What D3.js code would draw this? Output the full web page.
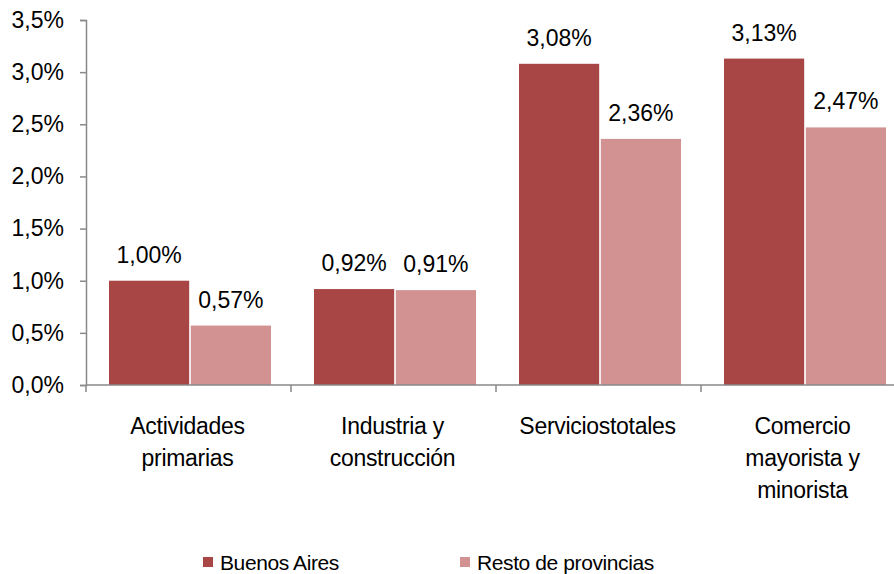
<!DOCTYPE html>
<html>
<head>
<meta charset="utf-8">
<script src="https://cdn.jsdelivr.net/npm/d3@7"></script>
<style>
  body { margin: 0; background: #fff; }
  text { font-family: "Liberation Sans", Arial, sans-serif; fill: #000; }
</style>
</head>
<body>
<script>
// valores
const categories = [["Actividades", "primarias"], ["Industria y", "construcción"], ["Serviciostotales"], ["Comercio", "mayorista y", "minorista"]];
const seriesNames = ["Buenos Aires", "Resto de provincias"];
const buenosAires = [1.00, 0.92, 3.08, 3.13];
const restoProv = [0.57, 0.91, 2.36, 2.47];
const yTicks = [0, 0.5, 1, 1.5, 2, 2.5, 3, 3.5];
const colors = ["#A84646", "#D39292"];

const W = 894, H = 574;
const svg = d3.select("body").append("svg")
  .attr("width", W)
  .attr("height", H);

const x0 = d3.scaleBand().domain(d3.range(categories.length)).range([86, 906]).paddingInner(0).paddingOuter(0);
const x1 = d3.scaleBand().domain([0, 1]).range([23, 185]).paddingInner(0.02);
const y = d3.scaleLinear().domain([0, 3.5]).range([385, 20]);

const fmt = v => d3.format(".1f")(v).replace(".", ",") + "%";
const fmt2 = v => d3.format(".2f")(v).replace(".", ",") + "%";

// eje y
const yAxis = svg.append("g")
  .attr("transform", "translate(86,0)")
  .call(d3.axisLeft(y).tickValues(yTicks).tickFormat(fmt).tickSize(6).tickPadding(16));
yAxis.select(".domain").attr("stroke", "#898989").attr("stroke-width", 1.5);
yAxis.selectAll(".tick line").attr("stroke", "#898989").attr("stroke-width", 1.5);
yAxis.selectAll("text").style("font-size", "23px").style("font-family", "Liberation Sans, Arial, sans-serif").attr("fill", "#000");

// barras
const data = categories.map((c, i) => ({ i: i, vals: [buenosAires[i], restoProv[i]] }));
const groups = svg.append("g").selectAll("g").data(data).join("g")
  .attr("transform", d => `translate(${x0(d.i)},0)`);

groups.selectAll("rect").data(d => d.vals.map((v, k) => ({ v, k }))).join("rect")
  .attr("x", d => x1(d.k))
  .attr("width", x1.bandwidth())
  .attr("y", d => y(d.v))
  .attr("height", d => y(0) - y(d.v))
  .attr("fill", d => colors[d.k]);

groups.selectAll("text.val").data(d => d.vals.map((v, k) => ({ v, k }))).join("text")
  .attr("class", "val")
  .attr("x", d => x1(d.k) + x1.bandwidth() / 2)
  .attr("y", d => y(d.v) - 18)
  .attr("text-anchor", "middle")
  .style("font-size", "23px")
  .text(d => fmt2(d.v));

// eje x
const xAxis = svg.append("g");
xAxis.append("line")
  .attr("x1", 86).attr("x2", W)
  .attr("y1", y(0)).attr("y2", y(0))
  .attr("stroke", "#898989").attr("stroke-width", 1.5);
xAxis.selectAll("line.tk").data(d3.range(categories.length + 1)).join("line")
  .attr("class", "tk")
  .attr("x1", d => 86 + d * x0.bandwidth())
  .attr("x2", d => 86 + d * x0.bandwidth())
  .attr("y1", y(0)).attr("y2", y(0) + 7)
  .attr("stroke", "#898989").attr("stroke-width", 1.5);

svg.append("g").selectAll("text").data(categories).join("text")
  .attr("x", (d, i) => x0(i) + x0.bandwidth() / 2 - 1)
  .attr("y", 434)
  .attr("text-anchor", "middle")
  .style("font-size", "23px")
  .style("letter-spacing", "-0.3px")
  .each(function(d) {
    const t = d3.select(this);
    d.forEach((line, j) => {
      t.append("tspan")
        .attr("x", t.attr("x"))
        .attr("dy", j === 0 ? 0 : 32)
        .text(line);
    });
  });

// leyenda
const legend = svg.append("g");
const legX = [203, 460];
seriesNames.forEach((s, k) => {
  legend.append("rect")
    .attr("x", legX[k]).attr("y", 557)
    .attr("width", 10).attr("height", 10)
    .attr("fill", colors[k]);
  legend.append("text")
    .attr("x", legX[k] + 17).attr("y", 570)
    .style("font-size", "21px")
    .style("letter-spacing", "-0.4px")
    .text(s);
});
</script>
</body>
</html>
